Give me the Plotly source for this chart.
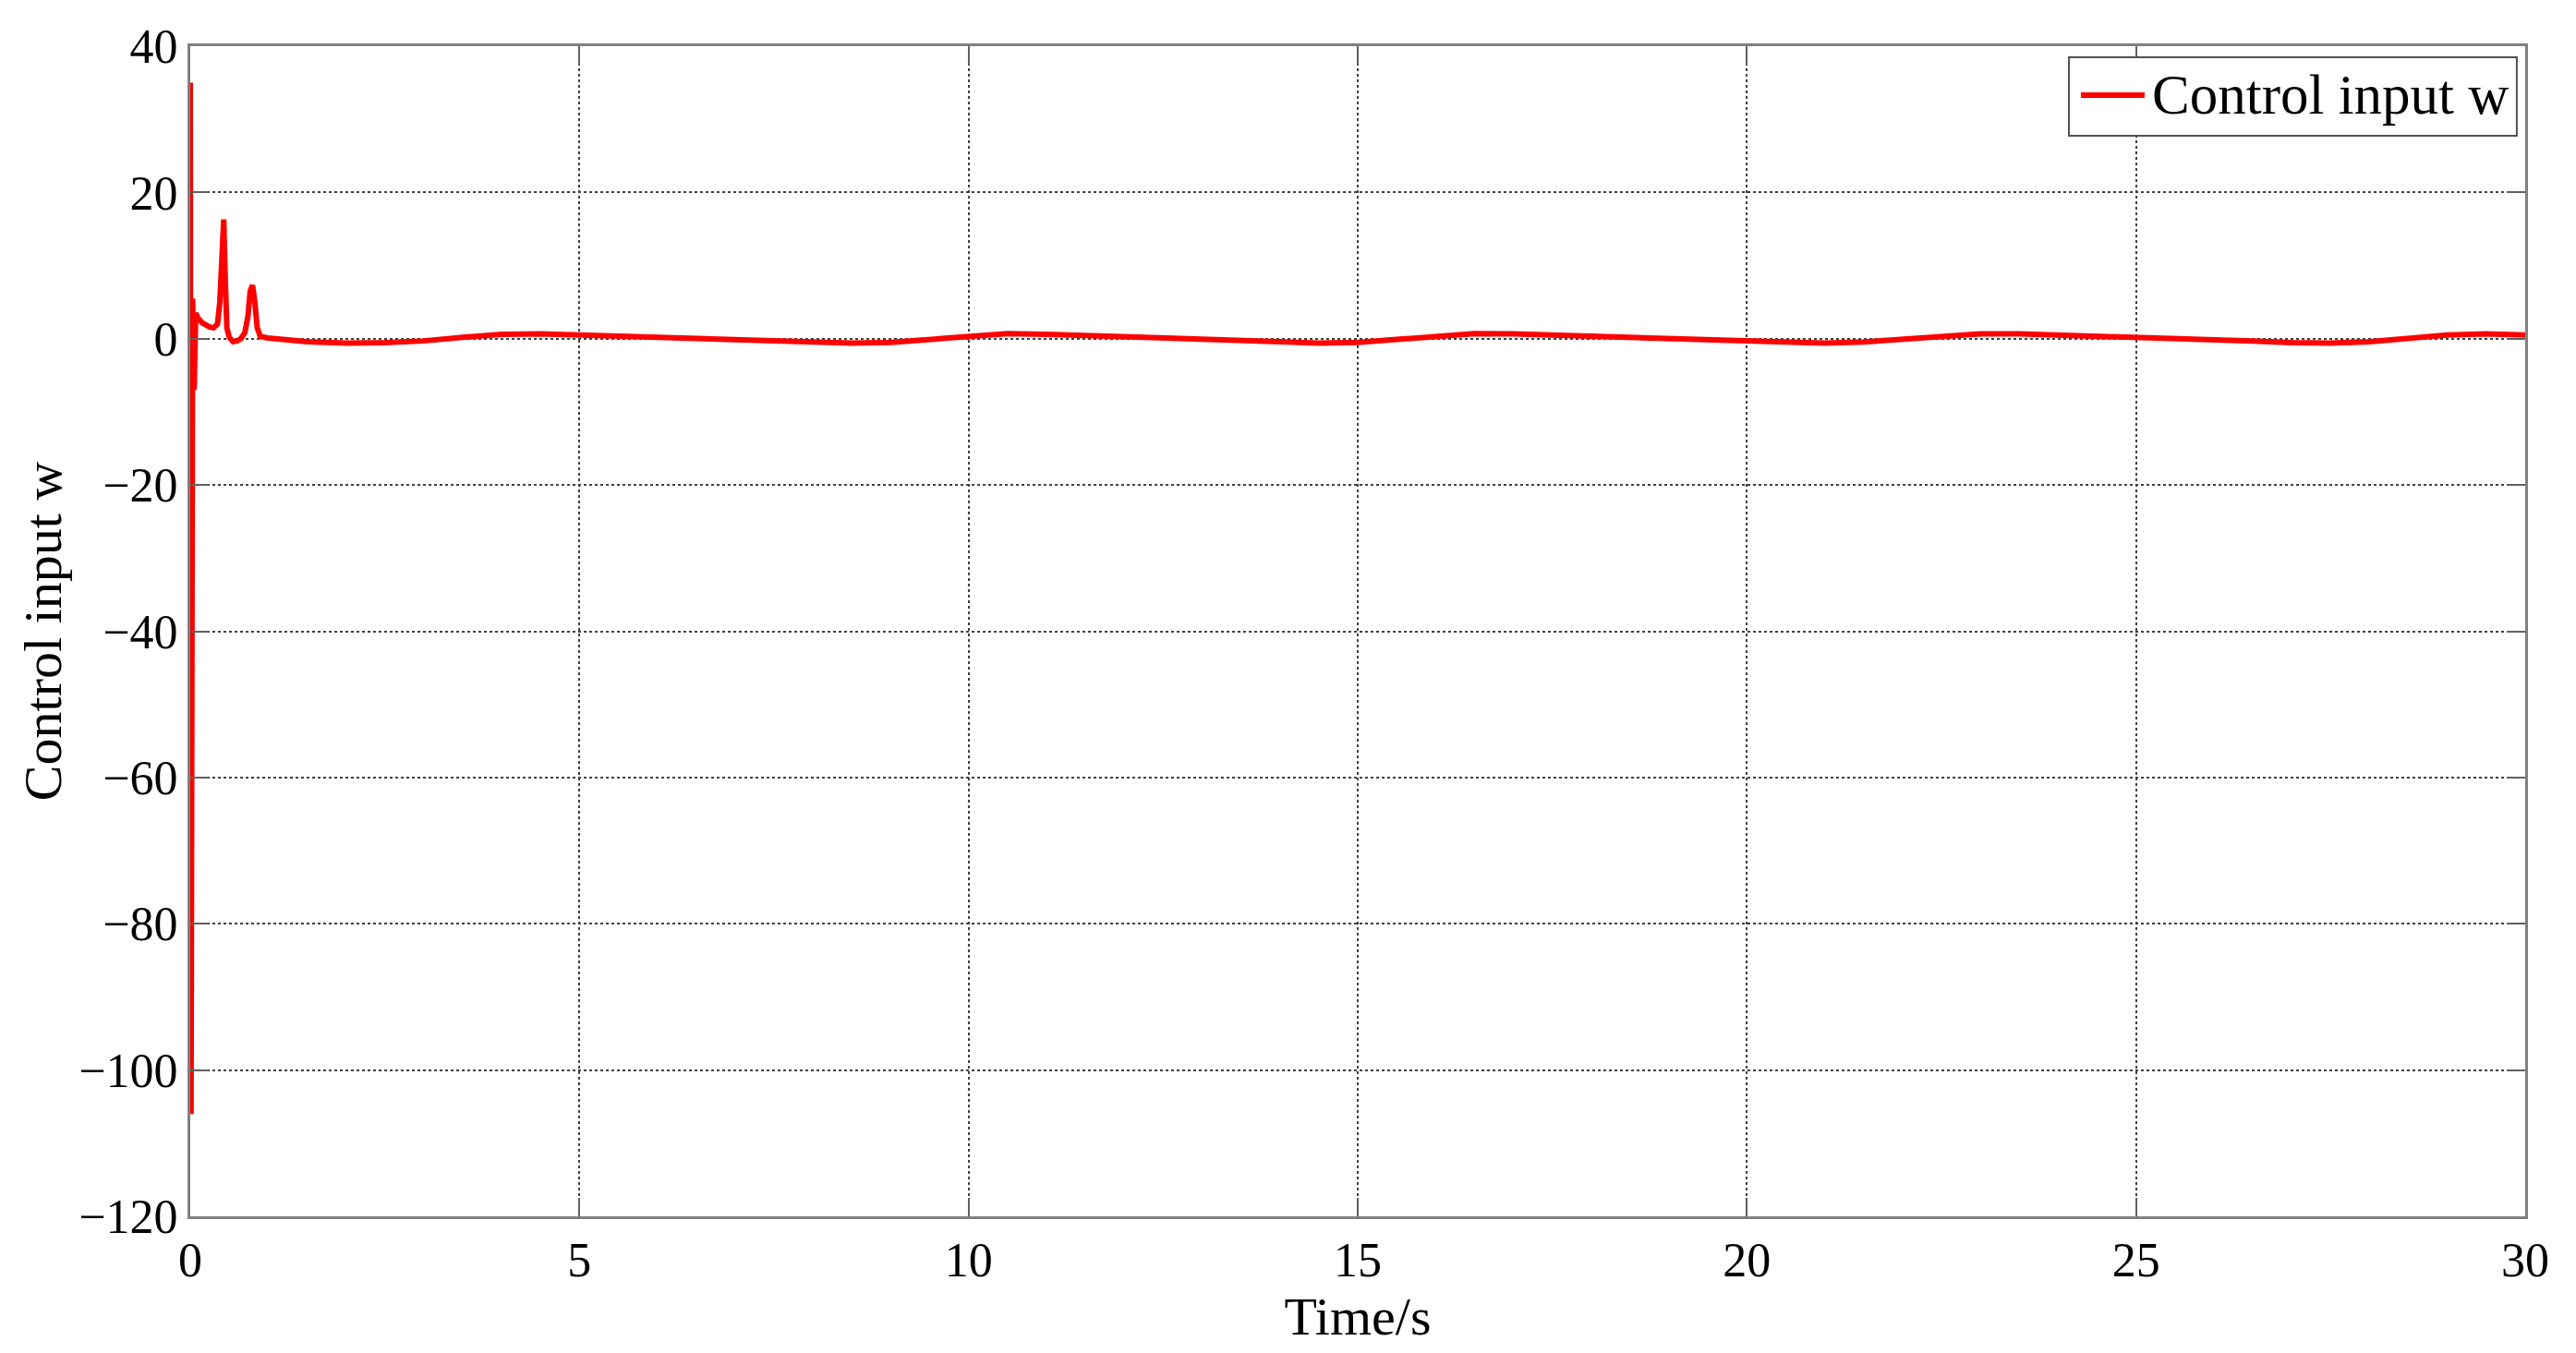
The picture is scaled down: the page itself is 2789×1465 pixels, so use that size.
import plotly.graph_objects as go

# transient part (first second)
t_start = [0, 0.01, 0.03, 0.05, 0.07, 0.1, 0.15, 0.2, 0.25, 0.3, 0.35, 0.38, 0.41, 0.43,
           0.45, 0.47, 0.5, 0.55, 0.6, 0.65, 0.7, 0.74, 0.77, 0.8, 0.83, 0.86, 0.9, 0.95]
w_start = [35, -106, 5.5, -7, 3.5, 2.8, 2.2, 1.8, 1.6, 1.5, 2.0, 5, 14, 16.3,
           8, 1.5, 0.2, -0.4, -0.3, 0, 0.8, 3, 6.5, 7.3, 5, 1.5, 0.3, 0.2]

# slow oscillation afterwards, sampled every 0.5 s
t_slow = [1.0, 1.5, 2.0, 2.5, 3.0, 3.5, 4.0, 4.5, 5.0, 5.5, 6.0, 6.5, 7.0, 7.5, 8.0, 8.5,
          9.0, 9.5, 10.0, 10.5, 11.0, 11.5, 12.0, 12.5, 13.0, 13.5, 14.0, 14.5, 15.0, 15.5,
          16.0, 16.5, 17.0, 17.5, 18.0, 18.5, 19.0, 19.5, 20.0, 20.5, 21.0, 21.5, 22.0, 22.5,
          23.0, 23.5, 24.0, 24.5, 25.0, 25.5, 26.0, 26.5, 27.0, 27.5, 28.0, 28.5, 29.0, 29.5, 30.0]
w_slow = [0.1, -0.4, -0.6, -0.55, -0.3, 0.2, 0.6, 0.65, 0.5, 0.4, 0.3, 0.15, 0.0, -0.2, -0.45, -0.6,
          -0.5, -0.1, 0.4, 0.7, 0.6, 0.45, 0.35, 0.2, 0.05, -0.15, -0.4, -0.6, -0.5, -0.1,
          0.35, 0.7, 0.65, 0.5, 0.4, 0.25, 0.1, -0.05, -0.3, -0.5, -0.6, -0.45, -0.1, 0.35,
          0.65, 0.65, 0.5, 0.35, 0.25, 0.1, -0.1, -0.3, -0.55, -0.6, -0.4, 0.0, 0.5, 0.65, 0.5]

x_ticks = [0, 5, 10, 15, 20, 25, 30]
y_ticks = [-120, -100, -80, -60, -40, -20, 0, 20, 40]

serif = "Liberation Serif"
red = "#ff0000"

fig = go.Figure()
fig.add_scatter(x=t_start + t_slow, y=w_start + w_slow, mode="lines",
                line=dict(color=red, width=6), name="Control input w", showlegend=False)

axis_style = dict(showline=True, linecolor="#808080", linewidth=3, mirror="ticks",
                  ticks="inside", ticklen=20, tickwidth=2, tickcolor="#606060",
                  showgrid=True, gridcolor="#404040", gridwidth=2, griddash="dot",
                  zeroline=False, automargin=False,
                  tickfont=dict(family=serif, size=52, color="black"))

fig.update_xaxes(range=[0, 30], tickvals=x_ticks,
                 title=dict(text="Time/s", font=dict(family=serif, size=58, color="black"), standoff=0),
                 **axis_style)
fig.update_yaxes(range=[-120, 40], tickvals=y_ticks,
                 title=dict(text="Control input w", font=dict(family=serif, size=58, color="black"), standoff=0),
                 **axis_style)

# legend box drawn by hand so the line sample has the long MATLAB look
fig.add_shape(type="rect", xref="paper", yref="paper", x0=0.8046, x1=0.9964, y0=0.9234, y1=0.9905,
              fillcolor="white", line=dict(color="#505050", width=2), layer="above")
fig.add_shape(type="line", xref="paper", yref="paper", x0=0.8097, x1=0.8370, y0=0.9582, y1=0.9582,
              line=dict(color=red, width=6), layer="above")
fig.add_annotation(text="Control input w", xref="paper", yref="paper", x=0.8394, y=0.9582,
                   xanchor="left", yanchor="middle", showarrow=False,
                   font=dict(family=serif, size=61, color="black"))

# page body has an 8px margin, so the figure is offset by it
fig.update_layout(width=2789, height=1465, plot_bgcolor="white", paper_bgcolor="white",
                  margin=dict(l=198, r=63, t=42, b=156))

fig.write_html("out.html")
